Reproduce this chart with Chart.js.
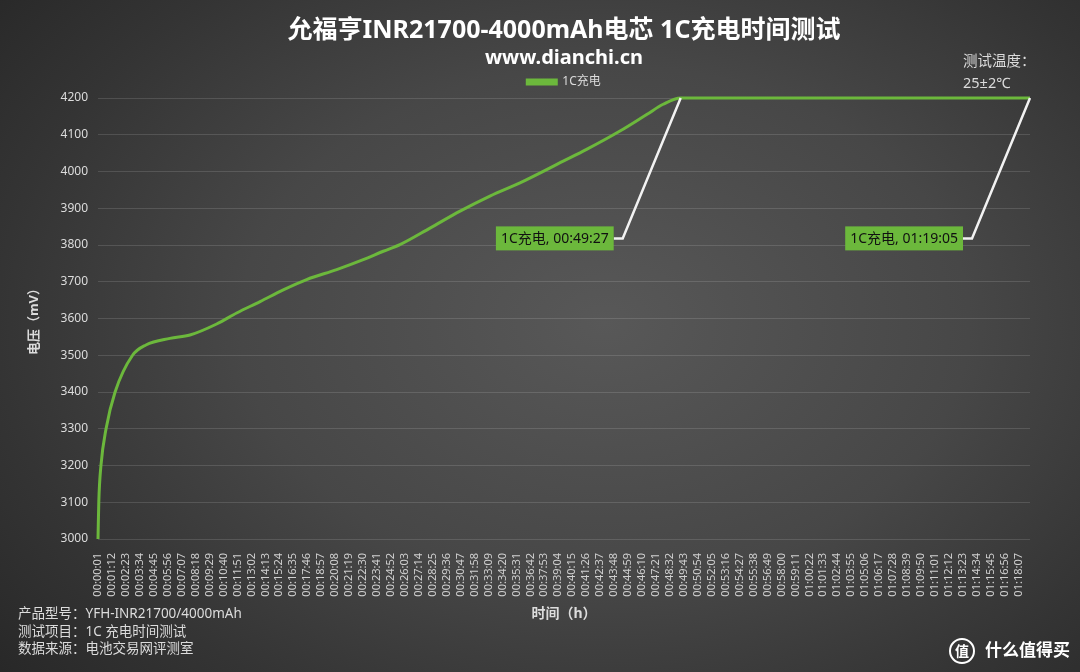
<!DOCTYPE html>
<html>
<head>
<meta charset="utf-8">
<script src="https://cdn.jsdelivr.net/npm/chart.js@4.4.1/dist/chart.umd.min.js"></script>
<style>
  html, body { margin: 0; padding: 0; }
  body {
    width: 1080px; height: 672px; overflow: hidden; position: relative;
    background: radial-gradient(ellipse 75% 85% at 56% 48%, #585858 0%, #474747 45%, #343434 75%, #262626 100%);
    font-family: 'Noto Sans', 'Noto Sans CJK SC', sans-serif;
  }
  #wrap { position: absolute; left: 0; top: 0; width: 1080px; height: 672px; }
  .note { position: absolute; color: #dcdcdc; font-size: 13.5px; line-height: 17.5px; }
  #foot { left: 18px; top: 605px; }
  #temp { left: 963px; top: 49px; line-height: 22px; font-size: 14.5px; }
  #logo { position: absolute; left: 949px; top: 636px; color: #fff; font-size: 17px; font-weight: bold; }
  #logo span.c { display: inline-block; width: 22px; height: 22px; border: 2px solid #fff; border-radius: 50%;
    text-align: center; line-height: 22px; font-size: 14px; margin-right: 10px; vertical-align: middle; }
</style>
</head>
<body>
<div id="wrap"><canvas id="voltChart" width="1080" height="672"></canvas></div>
<div class="note" id="foot">产品型号：YFH-INR21700/4000mAh<br>测试项目：1C 充电时间测试<br>数据来源：电池交易网评测室</div>
<div class="note" id="temp">测试温度：<br>25±2℃</div>
<div id="logo"><span class="c">值</span>什么值得买</div>
<script>
// charge time (seconds) and cell voltage (mV)
var chargeSec = [1, 5, 16, 42, 88, 177, 245, 367, 469, 605, 707, 826, 944, 1063, 1216, 1351, 1453, 1538, 1691, 1844, 1996, 2149, 2369, 2488, 2658, 2794, 2878, 2967, 4745];
var chargeMv  = [3000, 3100, 3200, 3300, 3400, 3500, 3528, 3546, 3555, 3585, 3615, 3646, 3678, 3706, 3733, 3760, 3783, 3801, 3846, 3892, 3933, 3969, 4028, 4060, 4110, 4155, 4183, 4200, 4200];

// callout labels
var markSec  = [2967, 4745];
var markText = ['1C充电, 00:49:27', '1C充电, 01:19:05'];

// x tick labels: every 71 s from 00:00:01 to 01:18:07
var tickStart = 1, tickStep = 71, tickEnd = 4687;
var tickSecs = [];
for (var t = tickStart; t <= tickEnd; t += tickStep) tickSecs.push(t);

var green = '#6cb83c';
var fontFam = "'Noto Sans', 'Noto Sans CJK SC', sans-serif";

function hms(s) {
  var h = Math.floor(s / 3600), m = Math.floor((s % 3600) / 60), sec = s % 60;
  function p(n) { return (n < 10 ? '0' : '') + n; }
  return p(h) + ':' + p(m) + ':' + p(sec);
}

var points = [];
for (var i = 0; i < chargeSec.length; i++) points.push({x: chargeSec[i], y: chargeMv[i]});

var calloutPlugin = {
  id: 'callout',
  afterDatasetsDraw: function(chart) {
    var ctx = chart.ctx, xs = chart.scales.x, ys = chart.scales.y;
    ctx.save();
    ctx.font = '14px ' + fontFam;
    for (var i = 0; i < markSec.length; i++) {
      var px = xs.getPixelForValue(markSec[i]);
      var py = ys.getPixelForValue(4200);
      var ly = ys.getPixelForValue(3818);
      var right = px - 67, elbow = px - 58;
      var w = ctx.measureText(markText[i]).width + 10;
      ctx.strokeStyle = '#f2f2f2';
      ctx.lineWidth = 2.5;
      ctx.beginPath();
      ctx.moveTo(right, ly);
      ctx.lineTo(elbow, ly);
      ctx.lineTo(px, py);
      ctx.stroke();
      ctx.fillStyle = green;
      ctx.fillRect(right - w, ly - 12, w, 24);
      ctx.fillStyle = '#111';
      ctx.textBaseline = 'middle';
      ctx.textAlign = 'left';
      ctx.fillText(markText[i], right - w + 5, ly + 1);
    }
    ctx.restore();
  }
};

var ctx = document.getElementById('voltChart');
var chart = new Chart(ctx, {
  type: 'line',
  data: {
    datasets: [{
      label: '1C充电',
      data: points,
      borderColor: green,
      backgroundColor: green,
      borderWidth: 3,
      pointRadius: 0,
      cubicInterpolationMode: 'monotone',
      clip: 4
    }]
  },
  options: {
    responsive: false,
    animation: false,
    layout: { padding: { left: 26, right: 50, top: 16, bottom: 50 } },
    plugins: {
      title: {
        display: true,
        fullSize: false,
        text: '允福亨INR21700-4000mAh电芯 1C充电时间测试',
        color: '#ffffff',
        font: { family: fontFam, size: 25, weight: 'bold' },
        padding: { top: 0, bottom: 0 }
      },
      subtitle: {
        display: true,
        fullSize: false,
        text: 'www.dianchi.cn',
        color: '#ffffff',
        font: { family: fontFam, size: 20, weight: 'bold' },
        padding: { top: 0, bottom: 0 }
      },
      legend: {
        fullSize: false,
        labels: {
          color: '#dcdcdc',
          boxWidth: 29,
          boxHeight: 4,
          padding: 6,
          font: { family: fontFam, size: 12 }
        }
      },
      tooltip: { enabled: false }
    },
    scales: {
      x: {
        type: 'linear',
        min: 1,
        max: 4745,
        afterBuildTicks: function(scale) {
          scale.ticks = tickSecs.map(function(v) { return {value: v}; });
        },
        afterFit: function(scale) { scale.height = 83; },
        grid: { display: false },
        border: { display: false },
        ticks: {
          autoSkip: false,
          maxRotation: 90,
          minRotation: 90,
          padding: 6,
          color: '#d0d0d0',
          font: { family: fontFam, size: 11 },
          callback: function(v) { return hms(v); }
        },
        title: {
          display: true,
          text: '时间（h）',
          color: '#dcdcdc',
          font: { family: fontFam, size: 14, weight: 'bold' },
          padding: { top: 0, bottom: 0 }
        }
      },
      y: {
        min: 3000,
        max: 4200,
        afterFit: function(scale) { scale.width = 72; },
        grid: { color: 'rgba(255,255,255,0.13)', drawTicks: false },
        border: { display: false },
        ticks: {
          stepSize: 100,
          padding: 10,
          color: '#dcdcdc',
          font: { family: fontFam, size: 12 },
          callback: function(v) { return String(v); }
        },
        title: {
          display: true,
          text: '电压（mV）',
          color: '#dcdcdc',
          font: { family: fontFam, size: 13, weight: 'bold' },
          padding: { top: 0, bottom: 4 }
        }
      }
    }
  },
  plugins: [calloutPlugin]
});
</script>
</body>
</html>
